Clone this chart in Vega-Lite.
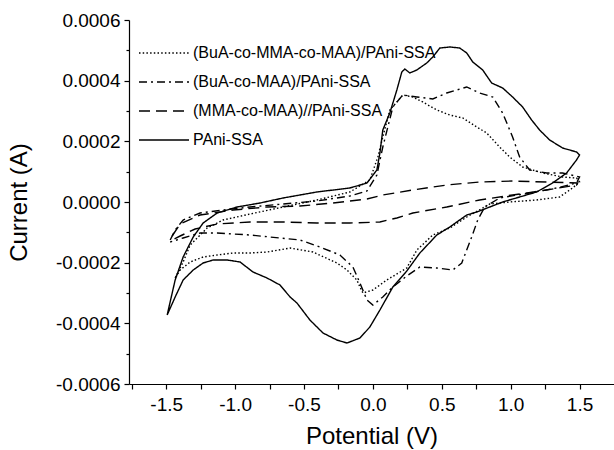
{
  "$schema": "https://vega.github.io/schema/vega-lite/v6.json",
  "width": 485,
  "height": 364,
  "autosize": {"type": "none"},
  "padding": {"left": 129, "top": 20, "right": 0, "bottom": 66},
  "background": "white",
  "config": {
    "view": {"stroke": null},
    "font": "Liberation Sans",
    "axis": {
      "grid": false, "domainColor": "black", "tickColor": "black", "labelColor": "black", "titleColor": "black",
      "labelFont": "Liberation Sans", "titleFont": "Liberation Sans", "labelFontSize": 19, "titleFontSize": 24,
      "titleFontWeight": "normal", "domainWidth": 1.2, "tickWidth": 1.2
    }
  },
  "data": {"values": [
    {"s":"D","o":1,"v":-1.493,"i":-0.0003726},{"s":"D","o":2,"v":-1.435,"i":-0.0002572},{"s":"D","o":3,"v":-1.377,"i":-0.0001813},{"s":"D","o":4,"v":-1.304,"i":-0.0001154},{"s":"D","o":5,"v":-1.232,"i":-0.0000692},{"s":"D","o":6,"v":-1.130,"i":-0.0000363},{"s":"D","o":7,"v":-0.986,"i":-0.0000165},{"s":"D","o":8,"v":-0.819,"i":-0.0000033},{"s":"D","o":9,"v":-0.652,"i":0.0000132},{"s":"D","o":10,"v":-0.406,"i":0.0000330},{"s":"D","o":11,"v":-0.167,"i":0.0000462},{"s":"D","o":12,"v":-0.043,"i":0.0000626},{"s":"D","o":13,"v":0.029,"i":0.0001055},{"s":"D","o":14,"v":0.051,"i":0.0001616},{"s":"D","o":15,"v":0.072,"i":0.0002374},{"s":"D","o":16,"v":0.123,"i":0.0002934},{"s":"D","o":17,"v":0.174,"i":0.0003693},{"s":"D","o":18,"v":0.210,"i":0.0004286},{"s":"D","o":19,"v":0.232,"i":0.0004385},{"s":"D","o":20,"v":0.268,"i":0.0004253},{"s":"D","o":21,"v":0.319,"i":0.0004352},{"s":"D","o":22,"v":0.391,"i":0.0004583},{"s":"D","o":23,"v":0.435,"i":0.0004781},{"s":"D","o":24,"v":0.486,"i":0.0005077},{"s":"D","o":25,"v":0.558,"i":0.0005110},{"s":"D","o":26,"v":0.630,"i":0.0005077},{"s":"D","o":27,"v":0.681,"i":0.0004913},{"s":"D","o":28,"v":0.725,"i":0.0004616},{"s":"D","o":29,"v":0.797,"i":0.0004352},{"s":"D","o":30,"v":0.862,"i":0.0003923},{"s":"D","o":31,"v":0.942,"i":0.0003758},{"s":"D","o":32,"v":1.014,"i":0.0003462},{"s":"D","o":33,"v":1.087,"i":0.0003132},{"s":"D","o":34,"v":1.152,"i":0.0002704},{"s":"D","o":35,"v":1.210,"i":0.0002374},{"s":"D","o":36,"v":1.283,"i":0.0002044},{"s":"D","o":37,"v":1.377,"i":0.0001780},{"s":"D","o":38,"v":1.478,"i":0.0001649},{"s":"D","o":39,"v":1.500,"i":0.0001550},{"s":"D","o":40,"v":1.478,"i":0.0001385},{"s":"D","o":41,"v":1.406,"i":0.0000956},{"s":"D","o":42,"v":1.304,"i":0.0000626},{"s":"D","o":43,"v":1.188,"i":0.0000330},{"s":"D","o":44,"v":1.065,"i":0.0000165},{"s":"D","o":45,"v":0.942,"i":0.0},{"s":"D","o":46,"v":0.848,"i":-0.0000165},{"s":"D","o":47,"v":0.754,"i":-0.0000330},{"s":"D","o":48,"v":0.681,"i":-0.0000429},{"s":"D","o":49,"v":0.558,"i":-0.0000824},{"s":"D","o":50,"v":0.464,"i":-0.0001088},{"s":"D","o":51,"v":0.341,"i":-0.0001681},{"s":"D","o":52,"v":0.246,"i":-0.0002275},{"s":"D","o":53,"v":0.145,"i":-0.0002802},{"s":"D","o":54,"v":0.051,"i":-0.0003561},{"s":"D","o":55,"v":-0.022,"i":-0.0004121},{"s":"D","o":56,"v":-0.094,"i":-0.0004484},{"s":"D","o":57,"v":-0.188,"i":-0.0004649},{"s":"D","o":58,"v":-0.261,"i":-0.0004550},{"s":"D","o":59,"v":-0.362,"i":-0.0004319},{"s":"D","o":60,"v":-0.457,"i":-0.0003890},{"s":"D","o":61,"v":-0.551,"i":-0.0003330},{"s":"D","o":62,"v":-0.601,"i":-0.0003132},{"s":"D","o":63,"v":-0.674,"i":-0.0002736},{"s":"D","o":64,"v":-0.768,"i":-0.0002506},{"s":"D","o":65,"v":-0.870,"i":-0.0002308},{"s":"D","o":66,"v":-0.964,"i":-0.0001978},{"s":"D","o":67,"v":-1.058,"i":-0.0001912},{"s":"D","o":68,"v":-1.159,"i":-0.0001912},{"s":"D","o":69,"v":-1.232,"i":-0.0002011},{"s":"D","o":70,"v":-1.304,"i":-0.0002242},{"s":"D","o":71,"v":-1.377,"i":-0.0002572},{"s":"D","o":72,"v":-1.435,"i":-0.0003132},{"s":"D","o":73,"v":-1.493,"i":-0.0003726},

    {"s":"A","o":1,"v":-1.435,"i":-0.0002506},{"s":"A","o":2,"v":-1.377,"i":-0.0001978},{"s":"A","o":3,"v":-1.326,"i":-0.0001418},{"s":"A","o":4,"v":-1.203,"i":-0.0000857},{"s":"A","o":5,"v":-1.087,"i":-0.0000593},{"s":"A","o":6,"v":-0.891,"i":-0.0000396},{"s":"A","o":7,"v":-0.652,"i":-0.0000165},{"s":"A","o":8,"v":-0.406,"i":0.0000066},{"s":"A","o":9,"v":-0.167,"i":0.0000330},{"s":"A","o":10,"v":-0.022,"i":0.0000725},{"s":"A","o":11,"v":0.036,"i":0.0001484},{"s":"A","o":12,"v":0.072,"i":0.0002143},{"s":"A","o":13,"v":0.123,"i":0.0003033},{"s":"A","o":14,"v":0.174,"i":0.0003297},{"s":"A","o":15,"v":0.217,"i":0.0003528},{"s":"A","o":16,"v":0.290,"i":0.0003462},{"s":"A","o":17,"v":0.362,"i":0.0003297},{"s":"A","o":18,"v":0.464,"i":0.0003033},{"s":"A","o":19,"v":0.558,"i":0.0002868},{"s":"A","o":20,"v":0.652,"i":0.0002769},{"s":"A","o":21,"v":0.754,"i":0.0002473},{"s":"A","o":22,"v":0.826,"i":0.0002275},{"s":"A","o":23,"v":0.920,"i":0.0001813},{"s":"A","o":24,"v":0.993,"i":0.0001484},{"s":"A","o":25,"v":1.087,"i":0.0001154},{"s":"A","o":26,"v":1.232,"i":0.0000956},{"s":"A","o":27,"v":1.377,"i":0.0000824},{"s":"A","o":28,"v":1.478,"i":0.0000791},{"s":"A","o":29,"v":1.500,"i":0.0000659},{"s":"A","o":30,"v":1.449,"i":0.0000462},{"s":"A","o":31,"v":1.355,"i":0.0000165},{"s":"A","o":32,"v":1.188,"i":0.0000066},{"s":"A","o":33,"v":0.993,"i":0.0},{"s":"A","o":34,"v":0.848,"i":-0.0000066},{"s":"A","o":35,"v":0.797,"i":-0.0000198},{"s":"A","o":36,"v":0.681,"i":-0.0000495},{"s":"A","o":37,"v":0.558,"i":-0.0000857},{"s":"A","o":38,"v":0.435,"i":-0.0001088},{"s":"A","o":39,"v":0.319,"i":-0.0001583},{"s":"A","o":40,"v":0.246,"i":-0.0002176},{"s":"A","o":41,"v":0.101,"i":-0.0002572},{"s":"A","o":42,"v":0.0,"i":-0.0002901},{"s":"A","o":43,"v":-0.072,"i":-0.0003000},{"s":"A","o":44,"v":-0.094,"i":-0.0002802},{"s":"A","o":45,"v":-0.116,"i":-0.0002572},{"s":"A","o":46,"v":-0.188,"i":-0.0002242},{"s":"A","o":47,"v":-0.261,"i":-0.0002011},{"s":"A","o":48,"v":-0.435,"i":-0.0001649},{"s":"A","o":49,"v":-0.601,"i":-0.0001517},{"s":"A","o":50,"v":-0.768,"i":-0.0001649},{"s":"A","o":51,"v":-0.891,"i":-0.0001681},{"s":"A","o":52,"v":-1.014,"i":-0.0001681},{"s":"A","o":53,"v":-1.130,"i":-0.0001747},{"s":"A","o":54,"v":-1.232,"i":-0.0001813},{"s":"A","o":55,"v":-1.326,"i":-0.0001978},{"s":"A","o":56,"v":-1.399,"i":-0.0002242},{"s":"A","o":57,"v":-1.435,"i":-0.0002506},

    {"s":"B","o":1,"v":-1.471,"i":-0.0001253},{"s":"B","o":2,"v":-1.435,"i":-0.0000923},{"s":"B","o":3,"v":-1.377,"i":-0.0000593},{"s":"B","o":4,"v":-1.254,"i":-0.0000363},{"s":"B","o":5,"v":-1.087,"i":-0.0000264},{"s":"B","o":6,"v":-0.891,"i":-0.0000165},{"s":"B","o":7,"v":-0.652,"i":-0.0000066},{"s":"B","o":8,"v":-0.406,"i":0.0000033},{"s":"B","o":9,"v":-0.167,"i":0.0000198},{"s":"B","o":10,"v":-0.043,"i":0.0000363},{"s":"B","o":11,"v":0.029,"i":0.0000890},{"s":"B","o":12,"v":0.072,"i":0.0001813},{"s":"B","o":13,"v":0.145,"i":0.0003132},{"s":"B","o":14,"v":0.217,"i":0.0003528},{"s":"B","o":15,"v":0.319,"i":0.0003462},{"s":"B","o":16,"v":0.435,"i":0.0003396},{"s":"B","o":17,"v":0.536,"i":0.0003594},{"s":"B","o":18,"v":0.681,"i":0.0003792},{"s":"B","o":19,"v":0.775,"i":0.0003594},{"s":"B","o":20,"v":0.870,"i":0.0003462},{"s":"B","o":21,"v":0.942,"i":0.0002934},{"s":"B","o":22,"v":1.014,"i":0.0002143},{"s":"B","o":23,"v":1.065,"i":0.0001484},{"s":"B","o":24,"v":1.138,"i":0.0001055},{"s":"B","o":25,"v":1.261,"i":0.0000956},{"s":"B","o":26,"v":1.377,"i":0.0000956},{"s":"B","o":27,"v":1.500,"i":0.0000824},{"s":"B","o":28,"v":1.478,"i":0.0000626},{"s":"B","o":29,"v":1.333,"i":0.0000462},{"s":"B","o":30,"v":1.138,"i":0.0000297},{"s":"B","o":31,"v":0.920,"i":0.0000132},{"s":"B","o":32,"v":0.812,"i":-0.0000165},{"s":"B","o":33,"v":0.761,"i":-0.0000593},{"s":"B","o":34,"v":0.717,"i":-0.0001154},{"s":"B","o":35,"v":0.681,"i":-0.0001583},{"s":"B","o":36,"v":0.645,"i":-0.0002011},{"s":"B","o":37,"v":0.580,"i":-0.0002242},{"s":"B","o":38,"v":0.464,"i":-0.0002176},{"s":"B","o":39,"v":0.341,"i":-0.0002143},{"s":"B","o":40,"v":0.246,"i":-0.0002440},{"s":"B","o":41,"v":0.145,"i":-0.0002802},{"s":"B","o":42,"v":0.072,"i":-0.0003132},{"s":"B","o":43,"v":0.0,"i":-0.0003396},{"s":"B","o":44,"v":-0.043,"i":-0.0003231},{"s":"B","o":45,"v":-0.094,"i":-0.0002671},{"s":"B","o":46,"v":-0.145,"i":-0.0002143},{"s":"B","o":47,"v":-0.239,"i":-0.0001747},{"s":"B","o":48,"v":-0.384,"i":-0.0001484},{"s":"B","o":49,"v":-0.529,"i":-0.0001253},{"s":"B","o":50,"v":-0.674,"i":-0.0001187},{"s":"B","o":51,"v":-0.891,"i":-0.0001088},{"s":"B","o":52,"v":-1.130,"i":-0.0001022},{"s":"B","o":53,"v":-1.254,"i":-0.0001022},{"s":"B","o":54,"v":-1.377,"i":-0.0001187},{"s":"B","o":55,"v":-1.471,"i":-0.0001319},

    {"s":"C","o":1,"v":-1.457,"i":-0.0001121},{"s":"C","o":2,"v":-1.399,"i":-0.0000725},{"s":"C","o":3,"v":-1.254,"i":-0.0000429},{"s":"C","o":4,"v":-1.014,"i":-0.0000264},{"s":"C","o":5,"v":-0.768,"i":-0.0000165},{"s":"C","o":6,"v":-0.529,"i":-0.0000132},{"s":"C","o":7,"v":-0.290,"i":-0.0000033},{"s":"C","o":8,"v":-0.043,"i":0.0000099},{"s":"C","o":9,"v":0.072,"i":0.0000231},{"s":"C","o":10,"v":0.290,"i":0.0000396},{"s":"C","o":11,"v":0.536,"i":0.0000560},{"s":"C","o":12,"v":0.775,"i":0.0000659},{"s":"C","o":13,"v":1.014,"i":0.0000692},{"s":"C","o":14,"v":1.261,"i":0.0000659},{"s":"C","o":15,"v":1.486,"i":0.0000626},{"s":"C","o":16,"v":1.478,"i":0.0000560},{"s":"C","o":17,"v":1.261,"i":0.0000396},{"s":"C","o":18,"v":1.014,"i":0.0000231},{"s":"C","o":19,"v":0.775,"i":0.0000066},{"s":"C","o":20,"v":0.536,"i":-0.0000165},{"s":"C","o":21,"v":0.290,"i":-0.0000363},{"s":"C","o":22,"v":0.174,"i":-0.0000527},{"s":"C","o":23,"v":0.051,"i":-0.0000659},{"s":"C","o":24,"v":-0.167,"i":-0.0000692},{"s":"C","o":25,"v":-0.406,"i":-0.0000692},{"s":"C","o":26,"v":-0.652,"i":-0.0000659},{"s":"C","o":27,"v":-0.891,"i":-0.0000659},{"s":"C","o":28,"v":-1.130,"i":-0.0000725},{"s":"C","o":29,"v":-1.290,"i":-0.0000890},{"s":"C","o":30,"v":-1.399,"i":-0.0001121},{"s":"C","o":31,"v":-1.457,"i":-0.0001253}
  ]},
  "layer": [
    {
      "mark": {"type": "line", "strokeWidth": 1.4, "color": "black"},
      "encoding": {
        "x": {"field": "v", "type": "quantitative", "scale": {"domain": [-1.77, 1.75], "nice": false, "zero": false},
          "axis": {"orient": "bottom", "values": [-1.5, -1, -0.5, 0, 0.5, 1, 1.5], "tickSize": 5, "labelPadding": 6,
            "labelExpr": "replace(format(datum.value, '.1f'), '\u2212', '-')", "title": "Potential (V)", "titlePadding": 10}},
        "y": {"field": "i", "type": "quantitative", "scale": {"domain": [-0.0006, 0.0006], "nice": false, "zero": false},
          "axis": {"orient": "left", "values": [-0.0006, -0.0004, -0.0002, 0, 0.0002, 0.0004, 0.0006], "tickSize": 5, "labelPadding": 4,
            "labelExpr": "replace(format(datum.value, '.4f'), '\u2212', '-')", "title": "Current (A)", "titlePadding": 24}},
        "strokeDash": {"field": "s", "type": "nominal",
          "scale": {"domain": ["A", "B", "C", "D"], "range": [[1.5, 2.2], [8, 4, 2, 4], [11, 6], [1, 0]]},
          "legend": {"orient": "none", "legendX": 9, "legendY": 22, "title": null, "symbolType": "M-1,0H4", "symbolSize": 400,
            "symbolStrokeWidth": 1.4, "symbolStrokeColor": "black", "symbolFillColor": "transparent", "labelFontSize": 16, "labelFont": "Liberation Sans",
            "labelColor": "black", "rowPadding": 10, "padding": 0, "labelOffset": 33, "labelLimit": 500,
            "labelExpr": "datum.value == 'A' ? '(BuA-co-MMA-co-MAA)/PAni-SSA' : datum.value == 'B' ? '(BuA-co-MAA)/PAni-SSA' : datum.value == 'C' ? '(MMA-co-MAA)//PAni-SSA' : '\u2002PAni-SSA'"}},
        "order": {"field": "o", "type": "quantitative"}
      }
    },
    {
      "mark": {"type": "point", "opacity": 0},
      "encoding": {
        "x": {"field": "v", "type": "quantitative", "scale": {"domain": [-1.77, 1.75], "nice": false, "zero": false},
          "axis": {"orient": "bottom", "values": [-1.75, -1.25, -0.75, -0.25, 0.25, 0.75, 1.25], "tickSize": 5, "labels": false, "domain": false, "title": null}},
        "y": {"field": "i", "type": "quantitative", "scale": {"domain": [-0.0006, 0.0006], "nice": false, "zero": false},
          "axis": {"orient": "left", "values": [-0.0005, -0.0003, -0.0001, 0.0001, 0.0003, 0.0005], "tickSize": 3, "labels": false, "domain": false, "title": null}}
      }
    }
  ],
  "resolve": {"axis": {"x": "independent", "y": "independent"}}
}
